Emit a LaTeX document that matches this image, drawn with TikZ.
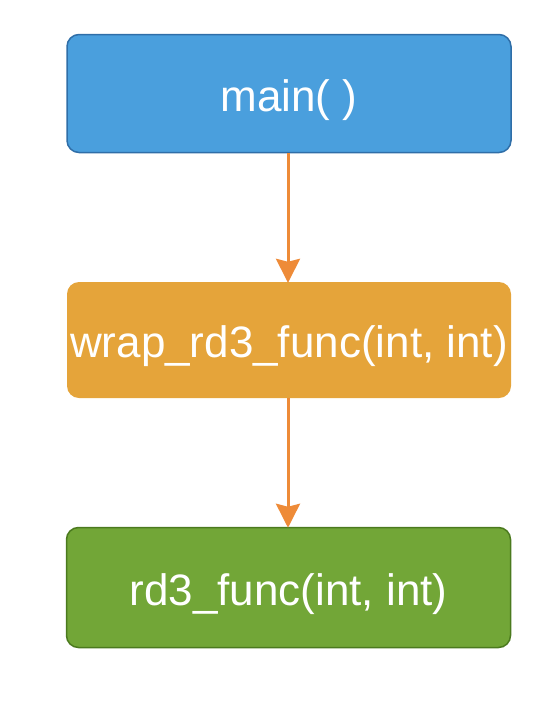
\documentclass[tikz,border=0pt]{standalone}
\usepackage{fontspec}
\setmainfont{Liberation Sans}
\usetikzlibrary{arrows.meta}
\definecolor{bluefill}{HTML}{4A9FDD}
\definecolor{blueline}{HTML}{2F6EA8}
\definecolor{orangefill}{HTML}{E5A43A}
\definecolor{greenfill}{HTML}{72A637}
\definecolor{greenline}{HTML}{4B7A1E}
\definecolor{arrowcol}{HTML}{EE8B38}
\tikzset{
  fbox/.style={rounded corners=12pt, minimum width=444pt, minimum height=118pt, inner sep=0pt, text=white, text height=44pt, text depth=9pt, font=\fontsize{44}{50}\selectfont},
  conn/.style={draw=arrowcol, line width=3pt, -{Stealth[width=24pt,length=24pt,inset=3pt]}}
}
\begin{document}
\begin{tikzpicture}[x=1pt,y=-1pt]
\useasboundingbox (0,0) rectangle (558,702);
\node[fbox, fill=bluefill, draw=blueline, line width=1.5pt] (main) at (289,93.5) {main( )};
\node[fbox, fill=orangefill, minimum height=116pt] (wrap) at (289,340) {wrap\_rd3\_func(int, int)};
\node[fbox, fill=greenfill, draw=greenline, line width=1.5pt, minimum height=120pt] (rd3) at (288.5,587.5) {rd3\_func(int, int)};
\draw[conn] (main.south -| 288,0) -- ([yshift=-1pt]wrap.north -| 288,0);
\draw[conn] (wrap.south -| 288,0) -- ([yshift=-1pt]rd3.north -| 288,0);
\end{tikzpicture}
\end{document}
